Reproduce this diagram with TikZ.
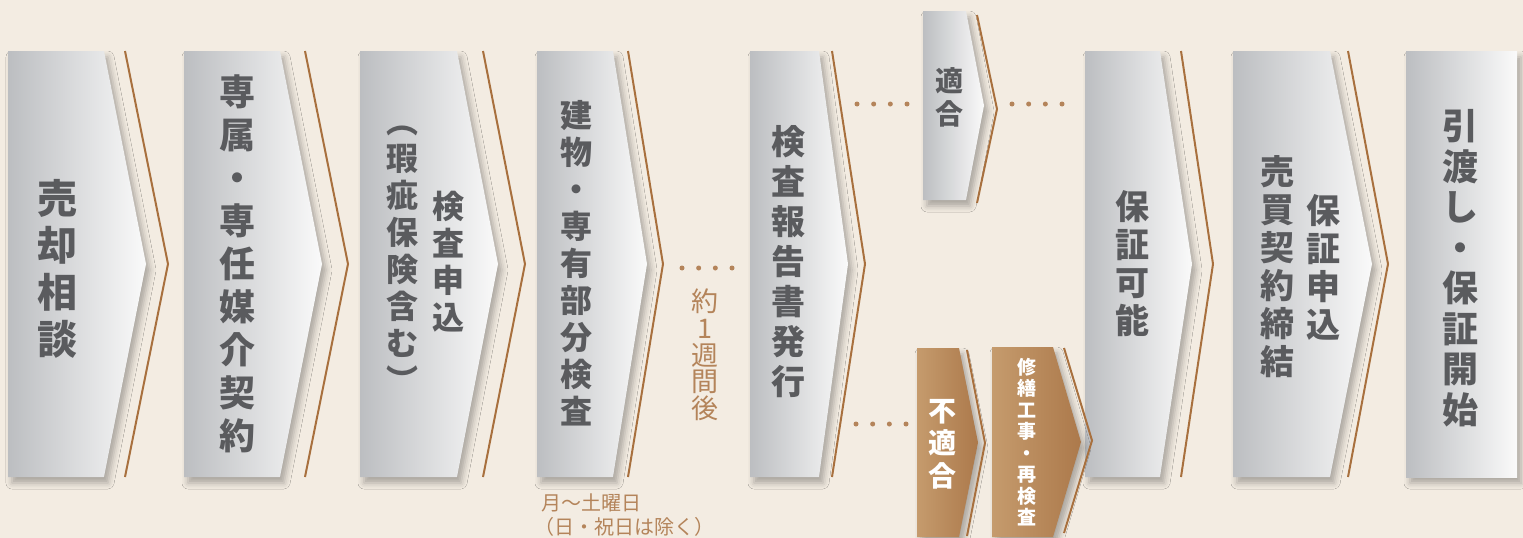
\documentclass[tikz,border=0pt]{standalone}
\usepackage{fontspec}
\newfontfamily\cjk{Noto Sans CJK JP}
\usetikzlibrary{shadows.blur}
\definecolor{bg}{HTML}{F3ECE2}
\definecolor{ink}{HTML}{5A5B5E}
\definecolor{bronze}{HTML}{A8703E}
\definecolor{tan}{HTML}{B4845A}
\definecolor{grayL}{HTML}{BCBEC1}
\definecolor{grayR}{HTML}{FAFAFA}
\definecolor{brownL}{HTML}{C59B6D}
\definecolor{brownR}{HTML}{AC794B}
\newcommand\fsz[2]{\fontsize{#1}{#2}\selectfont}

\begin{document}
\begin{tikzpicture}[x=1pt,y=-1pt]
	\tikzstyle{card}  = [left color=grayL, right color=grayR, blur shadow={shadow xshift=4pt, shadow yshift=-6pt, shadow blur radius=6pt, shadow opacity=30}]
	\tikzstyle{warm}  = [left color=brownL, right color=brownR, blur shadow={shadow xshift=4pt, shadow yshift=-6pt, shadow blur radius=6pt, shadow opacity=30}]
	\tikzstyle{rim}   = [draw=bronze, line width=2pt]
	\tikzstyle{dots}  = [draw=tan, line width=5pt, line cap=round, dash pattern=on 0pt off 16.67pt]
	\tikzstyle{label} = [text=ink, align=center, inner sep=0pt]

	\fill[bg] (0,0) rectangle (1523,538);
	\useasboundingbox (0,0) rectangle (1523,538);

	\foreach \l/\c/\t/\a/\b in {8/104/146/51/477, 184/280/322/51/477, 360/457/498/51/477, 537/613/647/51/477, 750/819/848/51/477, 1085/1160/1192/51/477, 1233/1330/1372/51/477, 923/966/984/11/200}
		\path[card] (\l,\a) -- (\c,\a) -- (\t,{(\a+\b)/2}) -- (\c,\b) -- (\l,\b) -- cycle;
	\path[card] (1406,51) rectangle (1517,477);

	\foreach \l/\c/\t/\a/\b in {917/959/978/348/537, 992/1053/1081/347/537}
		\path[warm] (\l,\a) -- (\c,\a) -- (\t,{(\a+\b)/2}) -- (\c,\b) -- (\l,\b) -- cycle;

	\foreach \x/\t/\a/\b in {125/168/51/477, 305/348/51/477, 483/525/51/477, 628/663/51/477, 832/865/51/477, 1181/1213/51/477, 1348/1388/51/477, 977/997/15/203, 967/985/350/536, 1064/1092/348/533}
		\draw[rim] (\x,\a) -- (\t,{(\a+\b)/2}) -- (\x,\b);

	\foreach \i/\x/\y in {1/682/268, 2/857/104, 3/1012/104, 4/856/424} {
		\coordinate (dot\i) at (\x,\y);
		\draw[dots] (dot\i) -- ++(50.1,0);
	}

	\node[label, font=\cjk\bfseries\fsz{40}{47}] (baikyaku) at (57,269) {売\\却\\相\\談};
	\node[label, font=\cjk\bfseries\fsz{36}{43}] (senzoku) at (237,264) {専\\属\\・\\専\\任\\媒\\介\\契\\約};
	\node[label, font=\cjk\bfseries\fsz{32}{37}] (kensa) at (448,262) {検\\査\\申\\込};
	\node[label, font=\cjk\bfseries\fsz{32}{37}] (kashi) at (402,259) {︵\\瑕\\疵\\保\\険\\含\\む\\︶};
	\node[label, font=\cjk\bfseries\fsz{32}{37}] (tatemono) at (576,263.5) {建\\物\\・\\専\\有\\部\\分\\検\\査};
	\node[label, font=\cjk\bfseries\fsz{34}{40}] (houkoku) at (788,261.5) {検\\査\\報\\告\\書\\発\\行};
	\node[label, font=\cjk\bfseries\fsz{28}{33}] (tekigo) at (949,97) {適\\合};
	\node[label, text=white, font=\cjk\bfseries\fsz{28}{32.5}] (futekigo) at (942,444) {不\\適\\合};
	\node[label, text=white, font=\cjk\bfseries\fsz{19}{21.5}] (shuzen) at (1027,442) {修\\繕\\工\\事\\・\\再\\検\\査};
	\node[label, font=\cjk\bfseries\fsz{34}{38}] (kanou) at (1132,263.5) {保\\証\\可\\能};
	\node[label, font=\cjk\bfseries\fsz{34}{38}] (hoshou) at (1323,267.5) {保\\証\\申\\込};
	\node[label, font=\cjk\bfseries\fsz{34}{38}] (baibai) at (1277,266.5) {売\\買\\契\\約\\締\\結};
	\node[label, font=\cjk\bfseries\fsz{36}{40.5}] (hikiwatashi) at (1460,268) {引\\渡\\し\\・\\保\\証\\開\\始};
	\node[label, text=tan, font=\cjk\fsz{27}{26.7}] (isshukan) at (705,355) {約\\1\\週\\間\\後};
	\node[label, text=tan, align=left, anchor=west, font=\cjk\fsz{20}{24}] (eigyoubi) at (541,515) {月〜土曜日\\\hspace{-7pt}（日・祝日は除く）};
\end{tikzpicture}
\end{document}
